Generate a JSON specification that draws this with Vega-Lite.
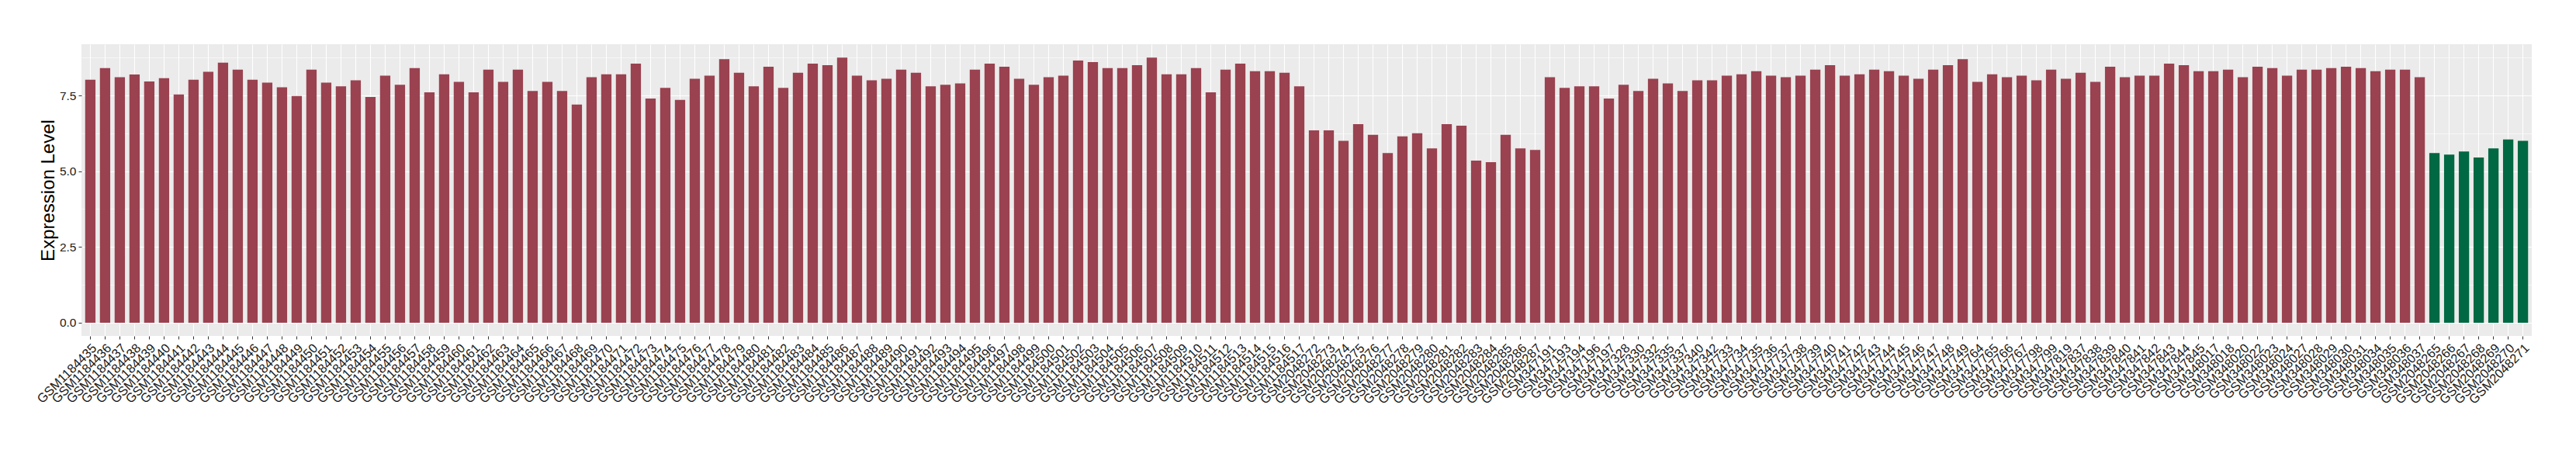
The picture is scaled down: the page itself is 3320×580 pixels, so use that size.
{
  "$schema": "https://vega.github.io/schema/vega-lite/v6.json",
  "autosize": "none",
  "width": 3158,
  "height": 376,
  "padding": {"left": 105, "top": 57, "right": 57, "bottom": 147},
  "background": "white",
  "config": {
    "view": {"fill": "#EBEBEB", "stroke": null},
    "axis": {
      "domain": false,
      "labelFont": "Liberation Sans",
      "titleFont": "Liberation Sans",
      "labelColor": "#1a1a1a",
      "titleColor": "#000000",
      "tickColor": "#333333",
      "tickSize": 4,
      "tickWidth": 1,
      "labelFontSize": 15.5,
      "titleFontSize": 24,
      "titleFontWeight": "normal",
      "gridColor": "#FFFFFF"
    }
  },
  "data": {"values": [
    {"s": "GSM1184435", "v": 8.02, "g": "T"},
    {"s": "GSM1184436", "v": 8.40, "g": "T"},
    {"s": "GSM1184437", "v": 8.10, "g": "T"},
    {"s": "GSM1184438", "v": 8.19, "g": "T"},
    {"s": "GSM1184439", "v": 7.96, "g": "T"},
    {"s": "GSM1184440", "v": 8.07, "g": "T"},
    {"s": "GSM1184441", "v": 7.53, "g": "T"},
    {"s": "GSM1184442", "v": 8.02, "g": "T"},
    {"s": "GSM1184443", "v": 8.28, "g": "T"},
    {"s": "GSM1184444", "v": 8.58, "g": "T"},
    {"s": "GSM1184445", "v": 8.35, "g": "T"},
    {"s": "GSM1184446", "v": 8.02, "g": "T"},
    {"s": "GSM1184447", "v": 7.92, "g": "T"},
    {"s": "GSM1184448", "v": 7.77, "g": "T"},
    {"s": "GSM1184449", "v": 7.48, "g": "T"},
    {"s": "GSM1184450", "v": 8.35, "g": "T"},
    {"s": "GSM1184451", "v": 7.92, "g": "T"},
    {"s": "GSM1184452", "v": 7.80, "g": "T"},
    {"s": "GSM1184453", "v": 8.00, "g": "T"},
    {"s": "GSM1184454", "v": 7.45, "g": "T"},
    {"s": "GSM1184455", "v": 8.15, "g": "T"},
    {"s": "GSM1184456", "v": 7.85, "g": "T"},
    {"s": "GSM1184457", "v": 8.40, "g": "T"},
    {"s": "GSM1184458", "v": 7.60, "g": "T"},
    {"s": "GSM1184459", "v": 8.20, "g": "T"},
    {"s": "GSM1184460", "v": 7.95, "g": "T"},
    {"s": "GSM1184461", "v": 7.60, "g": "T"},
    {"s": "GSM1184462", "v": 8.35, "g": "T"},
    {"s": "GSM1184463", "v": 7.95, "g": "T"},
    {"s": "GSM1184464", "v": 8.35, "g": "T"},
    {"s": "GSM1184465", "v": 7.65, "g": "T"},
    {"s": "GSM1184466", "v": 7.95, "g": "T"},
    {"s": "GSM1184467", "v": 7.65, "g": "T"},
    {"s": "GSM1184468", "v": 7.20, "g": "T"},
    {"s": "GSM1184469", "v": 8.10, "g": "T"},
    {"s": "GSM1184470", "v": 8.20, "g": "T"},
    {"s": "GSM1184471", "v": 8.20, "g": "T"},
    {"s": "GSM1184472", "v": 8.55, "g": "T"},
    {"s": "GSM1184473", "v": 7.40, "g": "T"},
    {"s": "GSM1184474", "v": 7.75, "g": "T"},
    {"s": "GSM1184475", "v": 7.35, "g": "T"},
    {"s": "GSM1184476", "v": 8.05, "g": "T"},
    {"s": "GSM1184477", "v": 8.15, "g": "T"},
    {"s": "GSM1184478", "v": 8.70, "g": "T"},
    {"s": "GSM1184479", "v": 8.25, "g": "T"},
    {"s": "GSM1184480", "v": 7.80, "g": "T"},
    {"s": "GSM1184481", "v": 8.45, "g": "T"},
    {"s": "GSM1184482", "v": 7.75, "g": "T"},
    {"s": "GSM1184483", "v": 8.25, "g": "T"},
    {"s": "GSM1184484", "v": 8.55, "g": "T"},
    {"s": "GSM1184485", "v": 8.50, "g": "T"},
    {"s": "GSM1184486", "v": 8.75, "g": "T"},
    {"s": "GSM1184487", "v": 8.15, "g": "T"},
    {"s": "GSM1184488", "v": 8.00, "g": "T"},
    {"s": "GSM1184489", "v": 8.05, "g": "T"},
    {"s": "GSM1184490", "v": 8.35, "g": "T"},
    {"s": "GSM1184491", "v": 8.25, "g": "T"},
    {"s": "GSM1184492", "v": 7.80, "g": "T"},
    {"s": "GSM1184493", "v": 7.85, "g": "T"},
    {"s": "GSM1184494", "v": 7.90, "g": "T"},
    {"s": "GSM1184495", "v": 8.35, "g": "T"},
    {"s": "GSM1184496", "v": 8.55, "g": "T"},
    {"s": "GSM1184497", "v": 8.45, "g": "T"},
    {"s": "GSM1184498", "v": 8.05, "g": "T"},
    {"s": "GSM1184499", "v": 7.85, "g": "T"},
    {"s": "GSM1184500", "v": 8.10, "g": "T"},
    {"s": "GSM1184501", "v": 8.15, "g": "T"},
    {"s": "GSM1184502", "v": 8.65, "g": "T"},
    {"s": "GSM1184503", "v": 8.60, "g": "T"},
    {"s": "GSM1184504", "v": 8.40, "g": "T"},
    {"s": "GSM1184505", "v": 8.40, "g": "T"},
    {"s": "GSM1184506", "v": 8.50, "g": "T"},
    {"s": "GSM1184507", "v": 8.75, "g": "T"},
    {"s": "GSM1184508", "v": 8.20, "g": "T"},
    {"s": "GSM1184509", "v": 8.20, "g": "T"},
    {"s": "GSM1184510", "v": 8.40, "g": "T"},
    {"s": "GSM1184511", "v": 7.60, "g": "T"},
    {"s": "GSM1184512", "v": 8.35, "g": "T"},
    {"s": "GSM1184513", "v": 8.55, "g": "T"},
    {"s": "GSM1184514", "v": 8.30, "g": "T"},
    {"s": "GSM1184515", "v": 8.30, "g": "T"},
    {"s": "GSM1184516", "v": 8.25, "g": "T"},
    {"s": "GSM1184517", "v": 7.80, "g": "T"},
    {"s": "GSM2048272", "v": 6.35, "g": "T"},
    {"s": "GSM2048273", "v": 6.35, "g": "T"},
    {"s": "GSM2048274", "v": 6.00, "g": "T"},
    {"s": "GSM2048275", "v": 6.55, "g": "T"},
    {"s": "GSM2048276", "v": 6.20, "g": "T"},
    {"s": "GSM2048277", "v": 5.60, "g": "T"},
    {"s": "GSM2048278", "v": 6.15, "g": "T"},
    {"s": "GSM2048279", "v": 6.25, "g": "T"},
    {"s": "GSM2048280", "v": 5.75, "g": "T"},
    {"s": "GSM2048281", "v": 6.55, "g": "T"},
    {"s": "GSM2048282", "v": 6.50, "g": "T"},
    {"s": "GSM2048283", "v": 5.35, "g": "T"},
    {"s": "GSM2048284", "v": 5.30, "g": "T"},
    {"s": "GSM2048285", "v": 6.20, "g": "T"},
    {"s": "GSM2048286", "v": 5.75, "g": "T"},
    {"s": "GSM2048287", "v": 5.70, "g": "T"},
    {"s": "GSM347191", "v": 8.10, "g": "T"},
    {"s": "GSM347193", "v": 7.75, "g": "T"},
    {"s": "GSM347194", "v": 7.80, "g": "T"},
    {"s": "GSM347196", "v": 7.80, "g": "T"},
    {"s": "GSM347197", "v": 7.40, "g": "T"},
    {"s": "GSM347328", "v": 7.85, "g": "T"},
    {"s": "GSM347330", "v": 7.65, "g": "T"},
    {"s": "GSM347332", "v": 8.05, "g": "T"},
    {"s": "GSM347335", "v": 7.90, "g": "T"},
    {"s": "GSM347337", "v": 7.65, "g": "T"},
    {"s": "GSM347340", "v": 8.00, "g": "T"},
    {"s": "GSM347342", "v": 8.00, "g": "T"},
    {"s": "GSM347733", "v": 8.15, "g": "T"},
    {"s": "GSM347734", "v": 8.20, "g": "T"},
    {"s": "GSM347735", "v": 8.30, "g": "T"},
    {"s": "GSM347736", "v": 8.15, "g": "T"},
    {"s": "GSM347737", "v": 8.10, "g": "T"},
    {"s": "GSM347738", "v": 8.15, "g": "T"},
    {"s": "GSM347739", "v": 8.35, "g": "T"},
    {"s": "GSM347740", "v": 8.50, "g": "T"},
    {"s": "GSM347741", "v": 8.15, "g": "T"},
    {"s": "GSM347742", "v": 8.20, "g": "T"},
    {"s": "GSM347743", "v": 8.35, "g": "T"},
    {"s": "GSM347744", "v": 8.30, "g": "T"},
    {"s": "GSM347745", "v": 8.15, "g": "T"},
    {"s": "GSM347746", "v": 8.05, "g": "T"},
    {"s": "GSM347747", "v": 8.35, "g": "T"},
    {"s": "GSM347748", "v": 8.50, "g": "T"},
    {"s": "GSM347749", "v": 8.70, "g": "T"},
    {"s": "GSM347764", "v": 7.95, "g": "T"},
    {"s": "GSM347765", "v": 8.20, "g": "T"},
    {"s": "GSM347766", "v": 8.10, "g": "T"},
    {"s": "GSM347767", "v": 8.15, "g": "T"},
    {"s": "GSM347798", "v": 8.00, "g": "T"},
    {"s": "GSM347799", "v": 8.35, "g": "T"},
    {"s": "GSM347819", "v": 8.05, "g": "T"},
    {"s": "GSM347837", "v": 8.25, "g": "T"},
    {"s": "GSM347838", "v": 7.95, "g": "T"},
    {"s": "GSM347839", "v": 8.45, "g": "T"},
    {"s": "GSM347840", "v": 8.10, "g": "T"},
    {"s": "GSM347841", "v": 8.15, "g": "T"},
    {"s": "GSM347842", "v": 8.15, "g": "T"},
    {"s": "GSM347843", "v": 8.55, "g": "T"},
    {"s": "GSM347844", "v": 8.50, "g": "T"},
    {"s": "GSM347845", "v": 8.30, "g": "T"},
    {"s": "GSM348017", "v": 8.30, "g": "T"},
    {"s": "GSM348018", "v": 8.35, "g": "T"},
    {"s": "GSM348020", "v": 8.10, "g": "T"},
    {"s": "GSM348022", "v": 8.45, "g": "T"},
    {"s": "GSM348023", "v": 8.40, "g": "T"},
    {"s": "GSM348024", "v": 8.15, "g": "T"},
    {"s": "GSM348027", "v": 8.35, "g": "T"},
    {"s": "GSM348028", "v": 8.35, "g": "T"},
    {"s": "GSM348029", "v": 8.40, "g": "T"},
    {"s": "GSM348030", "v": 8.45, "g": "T"},
    {"s": "GSM348031", "v": 8.40, "g": "T"},
    {"s": "GSM348034", "v": 8.30, "g": "T"},
    {"s": "GSM348035", "v": 8.35, "g": "T"},
    {"s": "GSM348036", "v": 8.35, "g": "T"},
    {"s": "GSM348037", "v": 8.10, "g": "T"},
    {"s": "GSM2048265", "v": 5.60, "g": "N"},
    {"s": "GSM2048266", "v": 5.55, "g": "N"},
    {"s": "GSM2048267", "v": 5.65, "g": "N"},
    {"s": "GSM2048268", "v": 5.45, "g": "N"},
    {"s": "GSM2048269", "v": 5.75, "g": "N"},
    {"s": "GSM2048270", "v": 6.05, "g": "N"},
    {"s": "GSM2048271", "v": 6.00, "g": "N"}
  ]},
  "encoding": {
    "x": {"field": "s", "type": "nominal", "sort": null,
          "scale": {"paddingInner": 0.3, "paddingOuter": 0.25},
          "axis": {"title": null, "labelAngle": -45, "labelAlign": "right", "labelBaseline": "top",
                   "labelPadding": 3, "grid": true, "gridWidth": 1.1, "bandPosition": 0.5,
                   "labelOverlap": false, "labelBound": false, "labelFontSize": 16.5}}
  },
  "layer": [
    {
      "mark": {"type": "bar", "opacity": 0},
      "encoding": {
        "y": {"field": "v", "type": "quantitative",
              "scale": {"domain": [-0.4376, 9.19], "nice": false, "zero": false},
              "axis": {"orient": "left", "values": [1.25, 3.75, 6.25, 8.75], "grid": true, "gridWidth": 0.55,
                       "labels": false, "ticks": false, "title": null, "domain": false}}
      }
    },
    {
      "mark": {"type": "bar"},
      "encoding": {
        "y": {"field": "v", "type": "quantitative",
              "axis": {"orient": "left", "values": [0, 2.5, 5, 7.5], "format": ".1f", "grid": true, "gridWidth": 1.1,
                       "title": "Expression Level", "titlePadding": 2, "labelPadding": 3,
                       "titleFontSize": 24, "labelFontSize": 15.5}},
        "y2": {"datum": 0},
        "color": {"field": "g", "type": "nominal",
                  "scale": {"domain": ["T", "N"], "range": ["#9A4250", "#006842"]},
                  "legend": null}
      }
    }
  ],
  "resolve": {"axis": {"y": "independent"}}
}
